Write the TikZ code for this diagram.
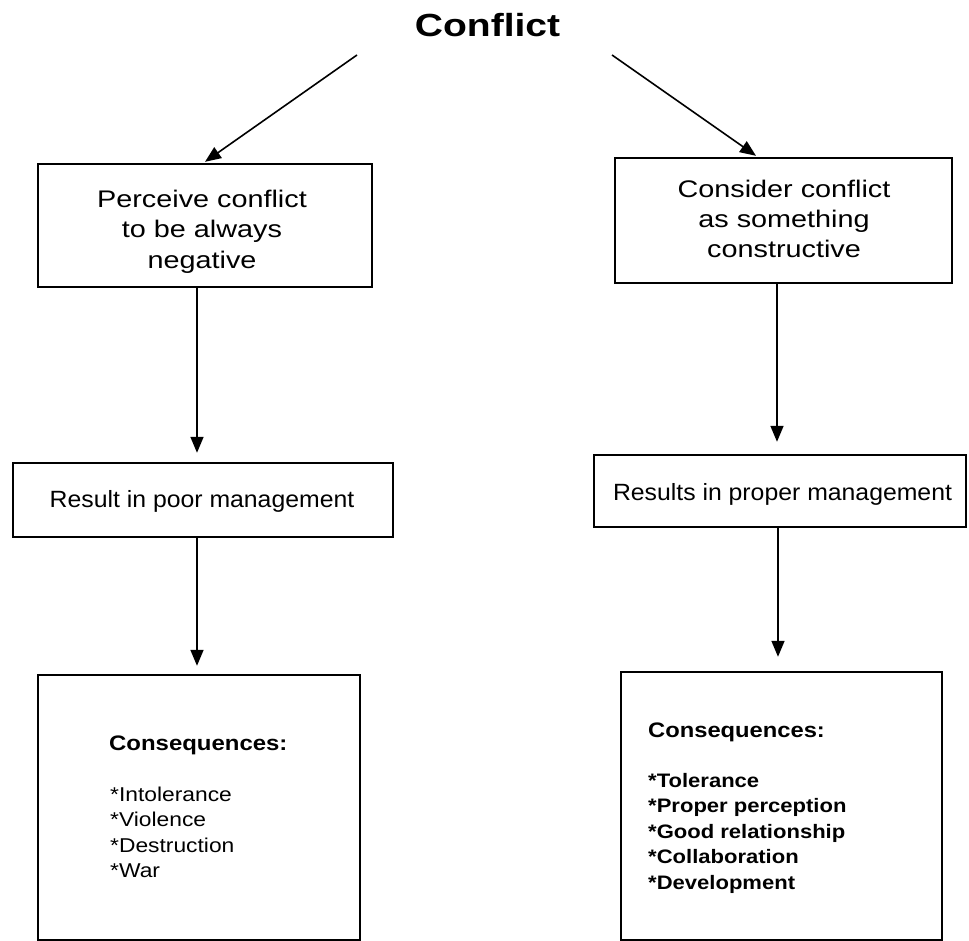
\documentclass[tikz,border=0pt]{standalone}
\usepackage{fontspec}
\setmainfont{Liberation Sans}
\newfontfamily\titlefont[FakeStretch=1.22]{Liberation Sans}
\newfontfamily\topfont[FakeStretch=1.2]{Liberation Sans}
\newfontfamily\midfont[FakeStretch=1.055]{Liberation Sans}
\newfontfamily\leftfont[FakeStretch=1.14]{Liberation Sans}
\newfontfamily\rightfont[FakeStretch=1.13]{Liberation Sans}
\usetikzlibrary{arrows.meta}
\tikzset{
  box/.style={draw=black, line width=2.4pt, inner sep=0pt, rectangle},
  conn/.style={draw=black, line width=1.6pt, -{Triangle[length=16pt,width=13pt]}},
  txt/.style={inner sep=0pt, text=black},
  toptxt/.style={txt, align=center, font=\topfont\fontsize{24}{30.5}\selectfont},
  midtxt/.style={txt, anchor=base, font=\midfont\fontsize{23.5}{28}\selectfont},
  headL/.style={txt, anchor=base west, font=\leftfont\bfseries\fontsize{21}{25}\selectfont},
  itemL/.style={txt, anchor=base west, font=\leftfont\fontsize{20}{25}\selectfont},
  headR/.style={txt, anchor=base west, font=\rightfont\bfseries\fontsize{21}{25}\selectfont},
  itemR/.style={txt, anchor=base west, font=\rightfont\bfseries\fontsize{19.5}{25}\selectfont}
}
\begin{document}
\begin{tikzpicture}[x=1pt, y=-1pt]
\useasboundingbox (0,0) rectangle (969,941);

% title
\node[txt, anchor=base, font=\titlefont\bfseries\fontsize{32}{38}\selectfont] (title) at (487.5,37) {Conflict};
\coordinate (tl) at (357,55);
\coordinate (tr) at (612,55);

% boxes
\node[box, minimum width=334pt, minimum height=123pt] (A) at (205,225.5) {};
\node[box, minimum width=337pt, minimum height=125pt] (B) at (783.5,220.5) {};
\node[box, minimum width=380pt, minimum height=74pt] (C) at (203,500) {};
\node[box, minimum width=372pt, minimum height=72pt] (D) at (780,491) {};
\node[box, minimum width=322pt, minimum height=265pt] (E) at (199,807.5) {};
\node[box, minimum width=321pt, minimum height=268pt] (F) at (781.5,806) {};

% texts
\node[toptxt] (At) at (202,231.4) {Perceive conflict\\to be always\\negative};
\node[toptxt, font=\topfont\fontsize{24}{30}\selectfont] (Bt) at (784,219.4) {Consider conflict\\as something\\constructive};
\node[midtxt] (Ct) at (202,507) {Result in poor management};
\node[midtxt] (Dt) at (782.5,500) {Results in proper management};

\node[headL] (Eh) at (109,750) {Consequences:};
\foreach \t [count=\i] in {Intolerance, Violence, Destruction, War}
  \node[itemL] (E\i) at (110,{775.5+25.5*\i}) {*\t};

\node[headR] (Fh) at (648,737) {Consequences:};
\foreach \t [count=\i] in {Tolerance, Proper perception, Good relationship, Collaboration, Development}
  \node[itemR] (F\i) at (648,{761.5+25.5*\i}) {*\t};

% connectors
\draw[conn] (tl) -- ([yshift=1pt]A.north);
\draw[conn] (tr) -- ([xshift=-27.5pt,yshift=1pt]B.north);
\draw[conn] ([xshift=-8pt]A.south) -- ([xshift=-6pt,yshift=9pt]C.north);
\draw[conn] ([xshift=-6.5pt]B.south) -- ([xshift=-3pt,yshift=12pt]D.north);
\draw[conn] ([xshift=-6pt]C.south) -- ([xshift=-2pt,yshift=8pt]E.north);
\draw[conn] ([xshift=-2pt]D.south) -- ([xshift=-3.5pt,yshift=14pt]F.north);
\end{tikzpicture}
\end{document}
